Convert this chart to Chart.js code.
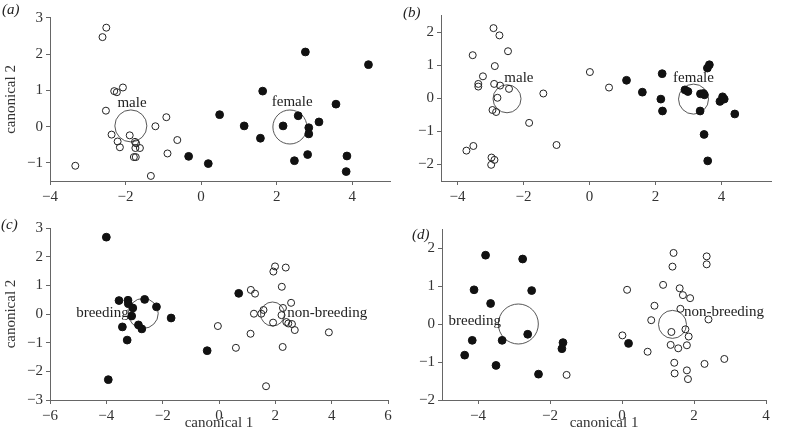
<!DOCTYPE html>
<html>
<head>
<meta charset="utf-8">
<script src="https://cdn.jsdelivr.net/npm/chart.js@4"></script>
<style>
  body { margin: 0; background: #fff; }
  #wrap { position: relative; width: 787px; height: 439px; }
  #wrap canvas { position: absolute; left: 0; top: 0; }
  .tag { position: absolute; font: italic 15px "Liberation Serif", serif; color: #222; }
</style>
</head>
<body>
<div id="wrap">
  <canvas id="pa" width="787" height="439"></canvas>
  <canvas id="pb" width="787" height="439"></canvas>
  <canvas id="pc" width="787" height="439"></canvas>
  <canvas id="pd" width="787" height="439"></canvas>
  <div class="tag" style="left:2px;top:1px">(a)</div>
  <div class="tag" style="left:403px;top:4px">(b)</div>
  <div class="tag" style="left:1px;top:216px">(c)</div>
  <div class="tag" style="left:412px;top:226px">(d)</div>
</div>
<script>
// (a) sexo, grupo 1
const maleA = [[-2.51,2.73],[-2.61,2.47],[-2.30,0.98],[-2.23,0.95],[-2.07,1.08],[-2.52,0.44],[-0.92,0.26],[-1.21,0.01],
  [-2.37,-0.22],[-1.89,-0.24],[-2.21,-0.41],[-1.75,-0.42],[-1.72,-0.46],[-2.15,-0.57],[-1.74,-0.59],[-1.62,-0.59],
  [-0.63,-0.37],[-0.89,-0.74],[-1.78,-0.84],[-1.73,-0.84],[-3.33,-1.08],[-1.33,-1.36]];
const femaleA = [[2.76,2.06],[4.43,1.71],[1.63,0.98],[3.57,0.62],[0.49,0.33],[2.57,0.30],[3.12,0.13],[1.14,0.02],
  [2.17,0.02],[2.85,-0.03],[2.85,-0.20],[1.57,-0.32],[-0.33,-0.82],[0.19,-1.02],[2.82,-0.77],[2.47,-0.94],
  [3.86,-0.81],[3.84,-1.24]];
const centA = [[-1.86,0.02],[2.35,-0.01]];
const centSizeA = [16, 17];
const textA = [['male',-1.83,0.66],['female',2.41,0.69]];

// (b) sexo, grupo 2
const maleB = [[-2.91,2.13],[-2.73,1.91],[-2.47,1.43],[-3.54,1.31],[-2.87,0.98],[-3.23,0.67],[-3.37,0.44],[-3.37,0.36],
  [-2.89,0.44],[-2.71,0.39],[-2.44,0.29],[-2.79,0.02],[-2.94,-0.35],[-2.83,-0.41],[-1.40,0.15],[-1.83,-0.74],
  [-1.00,-1.41],[0.01,0.80],[0.59,0.33],[-3.52,-1.44],[-3.73,-1.58],[-2.97,-1.79],[-2.88,-1.86],[-2.98,-2.01]];
const femaleB = [[1.12,0.55],[2.20,0.75],[1.60,0.19],[2.16,-0.02],[2.21,-0.38],[2.89,0.26],[2.98,0.21],[3.36,0.14],
  [3.45,0.15],[3.48,0.11],[3.35,-0.38],[3.57,0.92],[3.63,1.02],[3.95,-0.09],[4.03,0.05],[4.08,-0.02],
  [4.40,-0.47],[3.47,-1.09],[3.58,-1.89]];
const centB = [[-2.50,-0.01],[3.15,-0.02]];
const centSizeB = [14, 15];
const textB = [['male',-2.14,0.61],['female',3.15,0.61]];

// (c) reprodução, grupo 1
const breedC = [[-4.00,2.68],[-3.93,-2.29],[-3.55,0.47],[-3.23,0.48],[-3.22,0.36],[-2.64,0.51],[-2.22,0.25],[-3.06,0.21],
  [-3.10,-0.07],[-1.70,-0.14],[-3.43,-0.45],[-2.86,-0.38],[-2.74,-0.52],[-3.26,-0.91],[-0.42,-1.28],[0.70,0.72]];
const nonBreedC = [[1.99,1.66],[1.93,1.48],[2.37,1.62],[1.13,0.84],[1.28,0.71],[2.23,0.95],[2.56,0.39],[1.58,0.14],
  [1.50,0.01],[1.24,0.01],[2.27,0.21],[2.22,-0.04],[1.92,-0.30],[2.39,-0.28],[2.46,-0.33],[2.59,-0.35],
  [2.69,-0.56],[-0.04,-0.42],[1.12,-0.69],[0.60,-1.18],[2.26,-1.15],[3.90,-0.64],[1.67,-2.52]];
const centC = [[-2.69,0.02],[1.90,0.0]];
const centSizeC = [15, 12];
const textC = [['breeding',-4.14,0.03],['non-breeding',3.84,0.03]];

// (d) reprodução, grupo 2
const breedD = [[-3.79,1.81],[-2.76,1.71],[-4.11,0.90],[-2.51,0.88],[-3.65,0.54],[-2.62,-0.27],[-4.16,-0.43],[-3.33,-0.43],
  [-1.64,-0.49],[-1.67,-0.65],[-4.37,-0.82],[-3.50,-1.09],[-2.32,-1.32],[0.18,-0.51]];
const nonBreedD = [[-1.54,-1.34],[1.43,1.87],[1.40,1.51],[2.35,1.78],[2.35,1.57],[1.14,1.03],[1.60,0.94],[1.69,0.76],
  [1.89,0.68],[0.14,0.90],[0.90,0.48],[1.62,0.40],[0.81,0.10],[2.40,0.12],[1.37,-0.21],[1.76,-0.14],
  [1.85,-0.33],[0.01,-0.30],[1.35,-0.55],[1.56,-0.64],[1.80,-0.56],[0.71,-0.73],[1.45,-1.02],[1.46,-1.30],
  [1.80,-1.22],[1.83,-1.45],[2.29,-1.05],[2.84,-0.92]];
const centD = [[-2.88,0.0],[1.40,-0.01]];
const centSizeD = [20, 14];
const textD = [['breeding',-4.09,0.07],['non-breeding',2.83,0.32]];

// eixos
const xTicksAB = [-4, -2, 0, 2, 4];
const yTicksA = [-1, 0, 1, 2, 3];
const yTicksB = [-2, -1, 0, 1, 2];
const xTicksC = [-6, -4, -2, 0, 2, 4, 6];
const yTicksC = [-3, -2, -1, 0, 1, 2, 3];
const xTicksD = [-4, -2, 0, 2, 4];
const yTicksD = [-2, -1, 0, 1, 2];

const serif = '"Liberation Serif", "Times New Roman", serif';
const toXY = arr => arr.map(p => ({ x: p[0], y: p[1] }));

const rotulos = {
    id: 'rotulos',
    afterDatasetsDraw(chart, args, opts) {
        const ctx = chart.ctx;
        ctx.save();
        ctx.font = '15px ' + serif;
        ctx.fillStyle = '#222';
        ctx.textAlign = 'center';
        ctx.textBaseline = 'middle';
        opts.items.forEach(t => {
            ctx.fillText(t[0], chart.scales.x.getPixelForValue(t[1]), chart.scales.y.getPixelForValue(t[2]));
        });
        ctx.restore();
    }
};

function eixo(min, max, ticks, size, horizontal, title) {
    return {
        type: 'linear',
        min: min,
        max: max,
        afterBuildTicks: s => { s.ticks = ticks.map(v => ({ value: v })); },
        afterFit: s => { if (horizontal) s.height = size; else s.width = size; },
        grid: { display: true, drawOnChartArea: false, drawTicks: true, tickLength: 4, color: '#666' },
        border: { display: true, color: '#666', width: 1 },
        ticks: {
            padding: 3,
            color: '#333',
            font: { family: serif, size: 15 },
            callback: v => String(v).replace('-', '\u2212')
        },
        title: {
            display: !!title,
            text: title || '',
            color: '#333',
            font: { family: serif, size: 15 },
            padding: { top: 2, bottom: 0 }
        }
    };
}

function painel(id, abertos, cheios, centros, raios, textos, pad, xs, ys) {
    new Chart(document.getElementById(id), {
        type: 'scatter',
        data: {
            datasets: [
                { data: toXY(abertos), pointRadius: 3.5, borderWidth: 1, borderColor: '#222', backgroundColor: 'rgba(0,0,0,0)' },
                { data: toXY(cheios), pointRadius: 3.9, borderWidth: 1, borderColor: '#111', backgroundColor: '#111' },
                { data: toXY(centros), pointRadius: raios, borderWidth: 0.9, borderColor: '#444', backgroundColor: 'rgba(0,0,0,0)' }
            ]
        },
        options: {
            responsive: false,
            animation: false,
            events: [],
            layout: { padding: pad },
            plugins: { legend: { display: false }, tooltip: { enabled: false }, rotulos: { items: textos } },
            scales: { x: xs, y: ys }
        },
        plugins: [rotulos]
    });
}

painel('pa', maleA, femaleA, centA, centSizeA, textA,
    { left: 0, right: 397, top: 12, bottom: 228 },
    eixo(-4, 5, xTicksAB, 30, true), eixo(-1.5, 3, yTicksA, 50, false, 'canonical 2'));
painel('pb', maleB, femaleB, centB, centSizeB, textB,
    { left: 395, right: 6, top: 12, bottom: 228 },
    eixo(-4.5, 5.5, xTicksAB, 30, true), eixo(-2.5, 2.5, yTicksB, 46, false));
painel('pc', nonBreedC, breedC, centC, centSizeC, textC,
    { left: 0, right: 399, top: 228, bottom: 7 },
    eixo(-6, 6, xTicksC, 32, true, 'canonical 1'), eixo(-3, 3, yTicksC, 50, false, 'canonical 2'));
painel('pd', nonBreedD, breedD, centD, centSizeD, textD,
    { left: 396, right: 5, top: 229, bottom: 7 },
    eixo(-5, 4, xTicksD, 32, true, 'canonical 1'), eixo(-2, 2.5, yTicksD, 46, false));
</script>
</body>
</html>
